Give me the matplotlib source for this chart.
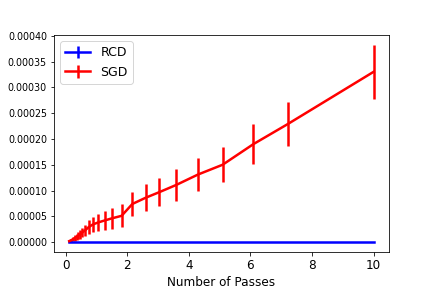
import matplotlib
matplotlib.use("Agg")
import matplotlib.pyplot as plt
from matplotlib.ticker import FormatStrFormatter

passes = [0.12, 0.19, 0.25, 0.30, 0.36, 0.42, 0.48, 0.55, 0.64, 0.75, 0.88, 1.05,
          1.27, 1.50, 1.82, 2.17, 2.60, 3.05, 3.60, 4.30, 5.10, 6.10, 7.22, 10.0]

rcd_mean = [0.0] * len(passes)
rcd_err = [0.0] * len(passes)

sgd_mean = [0.000002, 0.000004, 0.000006, 0.000008, 0.000010, 0.000013, 0.000015,
            0.000019, 0.000023, 0.000029, 0.000034, 0.000038, 0.000042, 0.000046,
            0.000051, 0.000074, 0.000086, 0.000097, 0.000111, 0.000131, 0.000150,
            0.000190, 0.000229, 0.000330]
sgd_err = [0.000002, 0.000003, 0.000004, 0.000005, 0.000006, 0.000007, 0.000008,
           0.000009, 0.000011, 0.000013, 0.000015, 0.000016, 0.000019, 0.000020,
           0.000022, 0.000024, 0.000026, 0.000027, 0.000031, 0.000032, 0.000034,
           0.000039, 0.000043, 0.000052]

fig, ax = plt.subplots(figsize=(6, 4), dpi=72)
fig.subplots_adjust(left=0.125, right=0.9, bottom=0.125, top=0.878)
ax.errorbar(passes, rcd_mean, yerr=rcd_err, color="b", lw=2.5, elinewidth=2.5, label="RCD")
ax.errorbar(passes, sgd_mean, yerr=sgd_err, color="r", lw=2.5, elinewidth=2.5, label="SGD")

ax.yaxis.set_major_formatter(FormatStrFormatter("%.5f"))
ax.set_yticks([i * 0.00005 for i in range(9)])
ax.tick_params(axis="y", labelsize=9.5)
ax.tick_params(axis="x", labelsize=12, pad=3.5)
ax.set_xlabel("Number of Passes", fontsize=12, labelpad=3.5)
ax.legend(loc="upper left", fontsize=12.5)

fig.savefig("out.png", dpi=72)
